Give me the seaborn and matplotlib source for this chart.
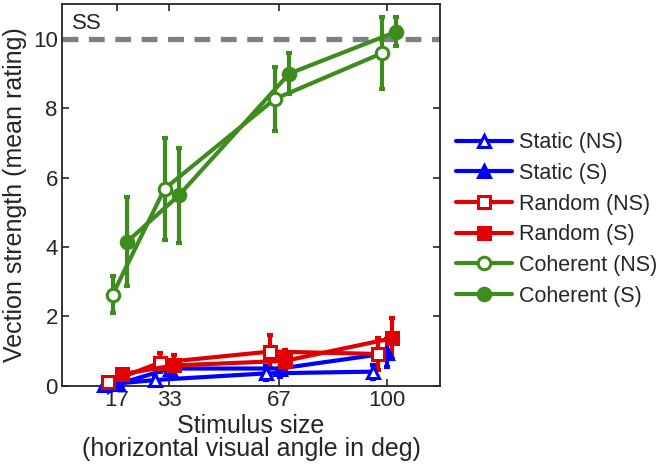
import numpy as np
import pandas as pd
import matplotlib
matplotlib.use('Agg')
import matplotlib.pyplot as plt
import seaborn as sns

# dados
sizes = [17, 33, 67, 100]
labels = ['Static (NS)', 'Static (S)', 'Random (NS)', 'Random (S)', 'Coherent (NS)', 'Coherent (S)']

static_ns = [0.03, 0.17, 0.36, 0.41]
static_ns_err = [0.05, 0.10, 0.20, 0.20]
static_s = [0.05, 0.50, 0.50, 0.94]
static_s_err = [0.05, 0.20, 0.25, 0.40]
random_ns = [0.10, 0.67, 0.99, 0.92]
random_ns_err = [0.05, 0.27, 0.47, 0.45]
random_s = [0.34, 0.59, 0.72, 1.37]
random_s_err = [0.12, 0.30, 0.30, 0.60]
coherent_ns = [2.63, 5.68, 8.27, 9.59]
coherent_ns_err = [0.53, 1.47, 0.93, 1.03]
coherent_s = [4.15, 5.49, 9.00, 10.21]
coherent_s_err = [1.28, 1.38, 0.59, 0.42]

ss_level = 10

means = [static_ns, static_s, random_ns, random_s, coherent_ns, coherent_s]
errs = [static_ns_err, static_s_err, random_ns_err, random_s_err, coherent_ns_err, coherent_s_err]

rows = []
for lab, m, e in zip(labels, means, errs):
    for s, v, ee in zip(sizes, m, e):
        rows.append({'cond': lab, 'size': s, 'mean': v, 'err': ee})
df = pd.DataFrame(rows)

# estilo de cada condicao
blue, red, green = '#0000ff', '#e00000', '#3f8c1e'
estilo = {
    'Static (NS)':   dict(color=blue,  marker='^', open=True,  dx=-4.2),
    'Static (S)':    dict(color=blue,  marker='^', open=False, dx=0.2),
    'Random (NS)':   dict(color=red,   marker='s', open=True,  dx=-2.8),
    'Random (S)':    dict(color=red,   marker='s', open=False, dx=1.6),
    'Coherent (NS)': dict(color=green, marker='o', open=True,  dx=-1.4),
    'Coherent (S)':  dict(color=green, marker='o', open=False, dx=3.0),
}

sns.set_style('ticks')
plt.rcParams['font.family'] = ['Liberation Sans', 'DejaVu Sans']

fig = plt.figure(figsize=(6.66, 4.70), dpi=100)
ax = fig.add_axes([0.093, 0.179, 0.568, 0.812])

ax.axhline(ss_level, color='#808080', lw=3.8, dashes=(3, 2), zorder=1)
ax.text(3, ss_level + 0.15, 'SS', fontsize=16, va='bottom', ha='left')

handles = []
for lab in labels:
    st = estilo[lab]
    d = df[df['cond'] == lab].copy()
    d['x'] = d['size'] + st['dx']
    ms = 9 if st['marker'] != 's' else 8
    ax.errorbar(d['x'], d['mean'], yerr=d['err'], fmt='none', ecolor=st['color'],
                elinewidth=3, capsize=2.5, capthick=3, zorder=3, clip_on=False)
    sns.lineplot(data=d, x='x', y='mean', ax=ax, color=st['color'], lw=3,
                 marker=st['marker'], markersize=ms,
                 markerfacecolor='white' if st['open'] else st['color'],
                 markeredgecolor=st['color'], markeredgewidth=2.2,
                 label=lab, zorder=4, clip_on=False, legend=False)
    h, = ax.plot([], [], color=st['color'], lw=3, marker=st['marker'],
                 markersize=ms,
                 markerfacecolor='white' if st['open'] else st['color'],
                 markeredgecolor=st['color'], markeredgewidth=2.2)
    handles.append(h)

ax.set_xlim(0, 116.5)
ax.set_ylim(0, 11)
ax.set_xticks(sizes)
ax.set_yticks([0, 2, 4, 6, 8, 10])
ax.tick_params(direction='in', length=5, width=1.2, labelsize=16, top=True, right=True, pad=3)
for sp in ax.spines.values():
    sp.set_linewidth(1.3)
    sp.set_visible(True)

ax.set_xlabel('Stimulus size\n(horizontal visual angle in deg)', fontsize=18, linespacing=0.95, labelpad=2)
ax.set_ylabel('Vection strength (mean rating)', fontsize=18, labelpad=4)

fig.legend(handles, labels, loc='center left', bbox_to_anchor=(0.684, 0.533),
           frameon=False, fontsize=15.5, handlelength=2.6, handletextpad=0.35,
           labelspacing=0.45, borderpad=0, borderaxespad=0)

fig.savefig('out.png', dpi=100)
